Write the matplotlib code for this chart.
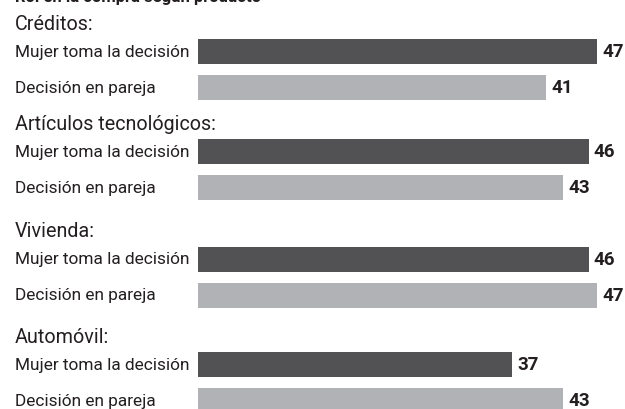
import matplotlib
matplotlib.use("Agg")
import matplotlib.pyplot as plt

# data
groups = ["Créditos:", "Artículos tecnológicos:", "Vivienda:", "Automóvil:"]
series = ["Mujer toma la decisión", "Decisión en pareja"]
mujer = [47, 46, 46, 37]
pareja = [41, 43, 47, 43]
title = "Rol en la compra según producto"

DARK = "#525254"
LIGHT = "#b1b2b5"
TXT = "#231f20"
FONT = ["Roboto", "DejaVu Sans"]

W, H = 625, 410
X0 = 198          # pixel where bars start
PX = 8.49         # pixels per unit
group_y = [52, 152.5, 260, 365.5]   # centre of first bar in each group (px)
PAIR_GAP = 36
BAR_H = 25

fig = plt.figure(figsize=(W / 100, H / 100), dpi=100)
ax = fig.add_axes([0, 0, 1, 1])
ax.set_xlim(-X0 / PX, (W - X0) / PX)
ax.set_ylim(H, 0)
ax.axis("off")

def px2x(p):
    return (p - X0) / PX

# title sits mostly above the visible area, as in the source crop
ax.text(px2x(15), -2.5, title, fontsize=12, fontweight="bold", color=TXT,
        family=FONT, va="center", ha="left")

for gi, (g, gy) in enumerate(zip(groups, group_y)):
    ax.text(px2x(15), gy - 28, g, fontsize=14.2, color=TXT, family=FONT,
            va="center", ha="left")
    for si, (vals, col) in enumerate([(mujer, DARK), (pareja, LIGHT)]):
        y = gy + si * PAIR_GAP
        ax.barh(y, vals[gi], height=BAR_H, left=0, color=col, edgecolor="none")
        ax.text(px2x(15), y, series[si], fontsize=12.4, color=TXT, family=FONT,
                va="center", ha="left")
        ax.text(vals[gi] + 5 / PX, y, str(vals[gi]),
                fontsize=13.5, fontweight="bold", color=TXT, family=FONT,
                va="center", ha="left")

fig.savefig("out.png", dpi=100)
